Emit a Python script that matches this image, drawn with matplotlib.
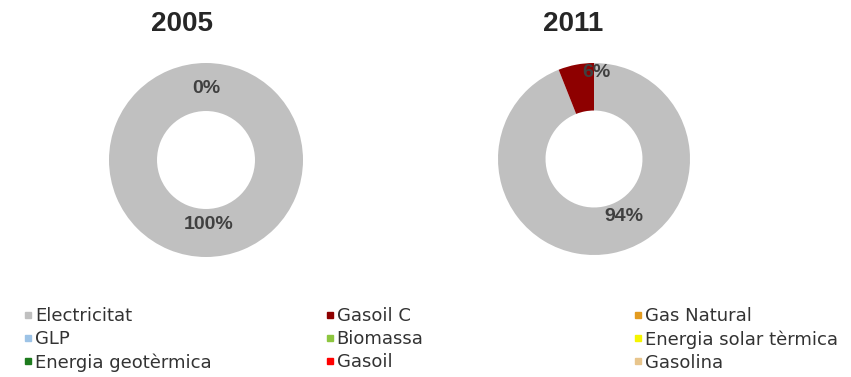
import matplotlib
matplotlib.use("Agg")
import matplotlib.pyplot as plt
from matplotlib.lines import Line2D

# fonts per consum energètic
categories = ["Electricitat", "Gasoil C", "Gas Natural",
              "GLP", "Biomassa", "Energia solar tèrmica",
              "Energia geotèrmica", "Gasoil", "Gasolina"]
colors = ["#C0C0C0", "#8E0000", "#E39B1F",
          "#9DC3E6", "#8DC63F", "#F5F500",
          "#1E7B1E", "#FF0000", "#E8C58C"]

years = ["2005", "2011"]
values_2005 = [100, 0, 0, 0, 0, 0, 0, 0, 0]
values_2011 = [94, 6, 0, 0, 0, 0, 0, 0, 0]
# only these series carry a data label
labelled = [0, 1]

fig = plt.figure(figsize=(8.51, 3.77), dpi=100)
W, H = 851, 377


def px_axes(cx, cy, r):
    # square axes centred at (cx, cy) in pixels from the top-left corner
    return fig.add_axes([(cx - r) / W, (H - cy - r) / H, 2 * r / W, 2 * r / H])


def donut(ax, values, label_pos):
    ax.pie(values, colors=colors, startangle=90, counterclock=False,
           wedgeprops=dict(width=0.495, edgecolor="none"))
    ax.set_xlim(-1, 1)
    ax.set_ylim(-1, 1)
    ax.set_aspect("equal")
    ax.axis("off")
    total = sum(values)
    for i, (x, y) in zip(labelled, label_pos):
        ax.text(x, y, f"{round(100 * values[i] / total)}%", ha="center", va="center",
                fontsize=14, fontweight="bold", color="#404040",
                family="Liberation Sans")


ax1 = px_axes(206, 160, 97)
donut(ax1, values_2005, [(0.03, -0.66), (0.0, 0.74)])
ax2 = px_axes(594, 159, 96)
donut(ax2, values_2011, [(0.31, -0.6), (0.02, 0.9)])

for year, x in zip(years, [182, 573]):
    fig.text(x / W, 1 - 24 / H, year, ha="center", va="center", fontsize=20,
             fontweight="bold", color="#262626", family="Liberation Sans")

# legend: three columns, filled row by row
handles = [Line2D([], [], marker="s", linestyle="none", markersize=5,
                  markerfacecolor=c, markeredgecolor=c) for c in colors]
for col, x0 in enumerate([23.5, 325, 633.5]):
    idx = range(col, len(categories), 3)
    fig.legend([handles[i] for i in idx], [categories[i] for i in idx],
               loc="upper left", bbox_to_anchor=(x0 / W, 1 - 307 / H),
               frameon=False, handlelength=0.5, handletextpad=0.15,
               borderpad=0, borderaxespad=0, labelspacing=0.28,
               labelcolor="#333333", prop=dict(family="DejaVu Sans", size=13))

fig.savefig("out.png", dpi=100, facecolor="white")
